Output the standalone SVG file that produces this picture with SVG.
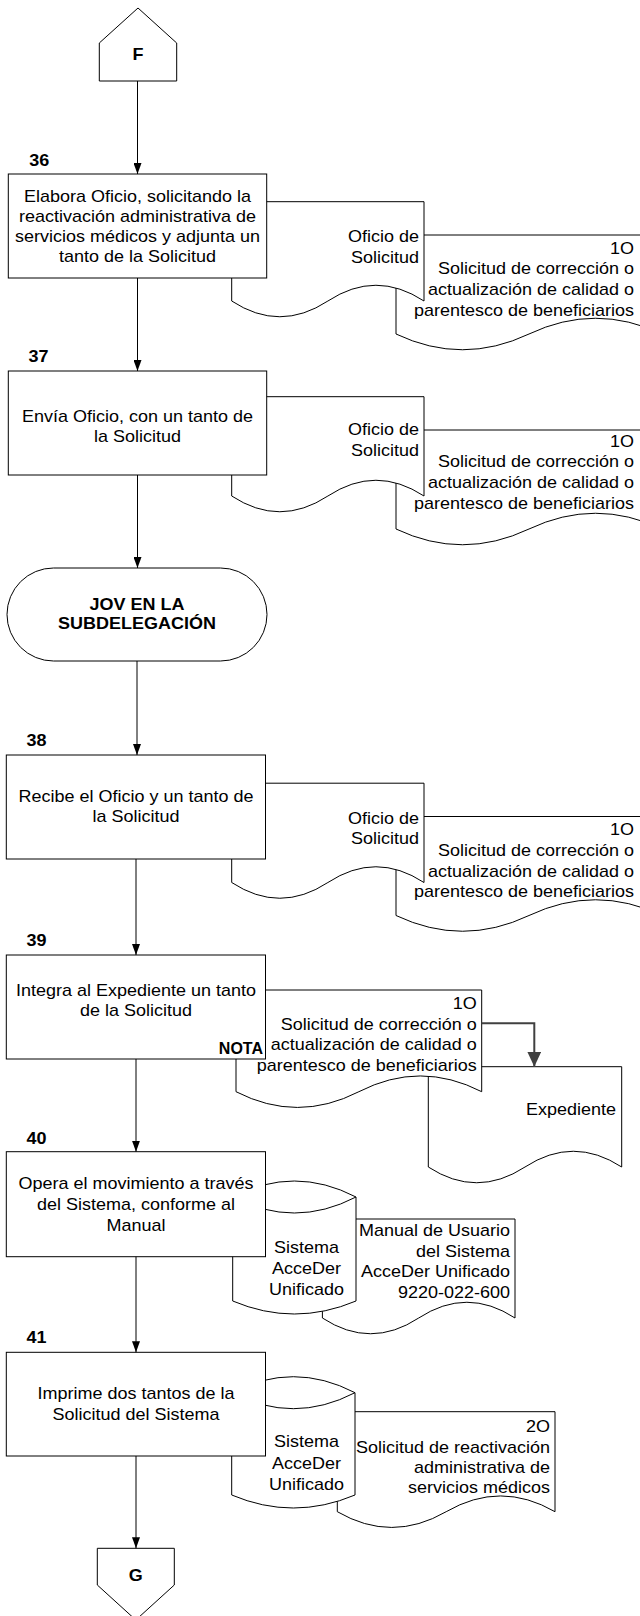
<svg xmlns="http://www.w3.org/2000/svg" width="640" height="1616" viewBox="0 0 640 1616">
<defs>
<style>
  .s { fill:#fff; stroke:#000; stroke-width:1; }
  .ln { fill:none; stroke:#000; stroke-width:1; }
  .t { font-family:"Liberation Sans", Arial, Helvetica, sans-serif; font-size:16px; fill:#000; }
  .b { font-weight:bold; }
  .m { text-anchor:middle; }
  .e { text-anchor:end; }
  .cn { fill:none; stroke:#000; stroke-width:1; marker-end:url(#ah); }
  .cn2 { fill:none; stroke:#404040; stroke-width:2; marker-end:url(#ah2); }
</style>
<marker id="ah" markerUnits="userSpaceOnUse" markerWidth="11" markerHeight="8" refX="11" refY="4" orient="auto"><path d="M0,0 L11,4 L0,8 Z" fill="#000"/></marker>
<marker id="ah2" markerUnits="userSpaceOnUse" markerWidth="15" markerHeight="14" refX="15" refY="7" orient="auto"><path d="M0,0 L15,7 L0,14 Z" fill="#404040"/></marker>
</defs>
<rect width="640" height="1616" fill="#fff"/>

<!-- off-page connector F -->
<g id="conn-F">
  <path class="s" d="M99.3 81 V43 L138 8 L176.7 43 V81 Z"/>
  <text class="t b m" transform="matrix(1.125 0 0 1 138 0)" x="0" y="59.7">F</text>
</g>

<!-- step 36 -->
<g id="doc36b">
  <path class="s" d="M396 235 H662 V334 Q595.5 302.5 529 334 Q462.5 365.5 396 334 Z"/>
  <text class="t e" transform="matrix(1.125 0 0 1 634 0)"><tspan x="0" y="253.7">1O</tspan><tspan x="0" y="274.4">Solicitud de corrección o</tspan><tspan x="0" y="295.1">actualización de calidad o</tspan><tspan x="0" y="315.7">parentesco de beneficiarios</tspan></text>
</g>
<g id="doc36a">
  <path class="s" d="M231.7 201.7 H424 V301 Q375.9 269.5 327.9 301 Q279.8 332.5 231.7 301 Z"/>
  <text class="t e" transform="matrix(1.125 0 0 1 419 0)"><tspan x="0" y="242.5">Oficio de</tspan><tspan x="0" y="263">Solicitud</tspan></text>
</g>
<g id="step36">
  <text class="t b" transform="matrix(1.125 0 0 1 29.3 0)" x="0" y="165.7">36</text>
  <rect class="s" x="8.3" y="174" width="258.4" height="104"/>
  <text class="t m" transform="matrix(1.125 0 0 1 137.5 0)"><tspan x="0" y="202.3">Elabora Oficio, solicitando la</tspan><tspan x="0" y="222.3">reactivación administrativa de</tspan><tspan x="0" y="242.3">servicios médicos y adjunta un</tspan><tspan x="0" y="262.3">tanto de la Solicitud</tspan></text>
</g>

<!-- step 37 -->
<g id="doc37b">
  <path class="s" d="M396 430 H662 V529 Q595.5 497.5 529 529 Q462.5 560.5 396 529 Z"/>
  <text class="t e" transform="matrix(1.125 0 0 1 634 0)"><tspan x="0" y="446.7">1O</tspan><tspan x="0" y="467.4">Solicitud de corrección o</tspan><tspan x="0" y="488.1">actualización de calidad o</tspan><tspan x="0" y="508.7">parentesco de beneficiarios</tspan></text>
</g>
<g id="doc37a">
  <path class="s" d="M231.7 396.7 H424 V496 Q375.9 464.5 327.9 496 Q279.8 527.5 231.7 496 Z"/>
  <text class="t e" transform="matrix(1.125 0 0 1 419 0)"><tspan x="0" y="435.5">Oficio de</tspan><tspan x="0" y="456">Solicitud</tspan></text>
</g>
<g id="step37">
  <text class="t b" transform="matrix(1.125 0 0 1 28.6 0)" x="0" y="361.7">37</text>
  <rect class="s" x="8.3" y="371" width="258.4" height="104"/>
  <text class="t m" transform="matrix(1.125 0 0 1 137.5 0)"><tspan x="0" y="421.7">Envía Oficio, con un tanto de</tspan><tspan x="0" y="441.7">la Solicitud</tspan></text>
</g>

<!-- terminal -->
<g id="term-jov">
  <rect class="s" x="7" y="568" width="260" height="93" rx="46.5" ry="46.5"/>
  <text class="t b m" transform="matrix(1.125 0 0 1 137 0)"><tspan x="0" y="609.7">JOV EN LA</tspan><tspan x="0" y="629.2">SUBDELEGACIÓN</tspan></text>
</g>

<!-- step 38 -->
<g id="doc38b">
  <path class="s" d="M396 816.5 H662 V915.5 Q595.5 884 529 915.5 Q462.5 947 396 915.5 Z"/>
  <text class="t e" transform="matrix(1.125 0 0 1 634 0)"><tspan x="0" y="835.2">1O</tspan><tspan x="0" y="855.9">Solicitud de corrección o</tspan><tspan x="0" y="876.6">actualización de calidad o</tspan><tspan x="0" y="897.2">parentesco de beneficiarios</tspan></text>
</g>
<g id="doc38a">
  <path class="s" d="M231.7 783.2 H424 V882.5 Q375.9 851 327.9 882.5 Q279.8 914 231.7 882.5 Z"/>
  <text class="t e" transform="matrix(1.125 0 0 1 419 0)"><tspan x="0" y="824">Oficio de</tspan><tspan x="0" y="844.5">Solicitud</tspan></text>
</g>
<g id="step38">
  <text class="t b" transform="matrix(1.125 0 0 1 26.5 0)" x="0" y="745.7">38</text>
  <rect class="s" x="6.3" y="755" width="259.2" height="104"/>
  <text class="t m" transform="matrix(1.125 0 0 1 136 0)"><tspan x="0" y="802.4">Recibe el Oficio y un tanto de</tspan><tspan x="0" y="822.4">la Solicitud</tspan></text>
</g>

<!-- step 39 -->
<g id="doc-expediente">
  <path class="s" d="M428.3 1066.7 H621.7 V1167 Q573.3 1135.5 525 1167 Q476.7 1198.5 428.3 1167 Z"/>
  <text class="t e" transform="matrix(1.125 0 0 1 616 0)" x="0" y="1115">Expediente</text>
</g>
<g id="doc39">
  <path class="s" d="M236 990 H481.7 V1091.7 Q420.3 1060.2 358.9 1091.7 Q297.4 1123.2 236 1091.7 Z"/>
  <text class="t e" transform="matrix(1.125 0 0 1 476.7 0)"><tspan x="0" y="1009">1O</tspan><tspan x="0" y="1029.7">Solicitud de corrección o</tspan><tspan x="0" y="1050.5">actualización de calidad o</tspan><tspan x="0" y="1071.2">parentesco de beneficiarios</tspan></text>
</g>
<g id="step39">
  <text class="t b" transform="matrix(1.125 0 0 1 26.5 0)" x="0" y="945.7">39</text>
  <rect class="s" x="6.3" y="955" width="259.2" height="104"/>
  <text class="t m" transform="matrix(1.125 0 0 1 136 0)"><tspan x="0" y="995.7">Integra al Expediente un tanto</tspan><tspan x="0" y="1015.7">de la Solicitud</tspan></text>
  <text class="t b e" x="263" y="1053.7">NOTA</text>
</g>

<!-- step 40 -->
<g id="doc-manual">
  <path class="s" d="M322.4 1219 H515 V1318 Q466.9 1286.5 418.7 1318 Q370.6 1349.5 322.4 1318 Z"/>
  <text class="t e" transform="matrix(1.125 0 0 1 510 0)"><tspan x="0" y="1236.5">Manual de Usuario</tspan><tspan x="0" y="1257">del Sistema</tspan><tspan x="0" y="1277.5">AcceDer Unificado</tspan><tspan x="0" y="1298">9220-022-600</tspan></text>
</g>
<g id="db40">
  <path class="s" d="M232.7 1197 Q294.35 1165 356 1197 V1301 Q294.35 1327 232.7 1301 Z"/>
  <path class="ln" d="M232.7 1197 Q294.35 1229 356 1197"/>
  <text class="t m" transform="matrix(1.125 0 0 1 306.5 0)"><tspan x="0" y="1252.7">Sistema</tspan><tspan x="0" y="1273.7">AcceDer</tspan><tspan x="0" y="1294.7">Unificado</tspan></text>
</g>
<g id="step40">
  <text class="t b" transform="matrix(1.125 0 0 1 26.5 0)" x="0" y="1143.7">40</text>
  <rect class="s" x="6.3" y="1151.7" width="259.2" height="105"/>
  <text class="t m" transform="matrix(1.125 0 0 1 136 0)"><tspan x="0" y="1189">Opera el movimiento a través</tspan><tspan x="0" y="1209.8">del Sistema, conforme al</tspan><tspan x="0" y="1230.6">Manual</tspan></text>
</g>

<!-- step 41 -->
<g id="doc41">
  <path class="s" d="M337.3 1411.7 H555 V1511.7 Q500.6 1480.2 446.2 1511.7 Q391.7 1543.2 337.3 1511.7 Z"/>
  <text class="t e" transform="matrix(1.125 0 0 1 550 0)"><tspan x="0" y="1432.5">2O</tspan><tspan x="0" y="1453">Solicitud de reactivación</tspan><tspan x="0" y="1473">administrativa de</tspan><tspan x="0" y="1493">servicios médicos</tspan></text>
</g>
<g id="db41">
  <path class="s" d="M231.7 1392.7 Q293.35 1360.7 355 1392.7 V1495 Q293.35 1521 231.7 1495 Z"/>
  <path class="ln" d="M231.7 1392.7 Q293.35 1424.7 355 1392.7"/>
  <text class="t m" transform="matrix(1.125 0 0 1 306.5 0)"><tspan x="0" y="1447.5">Sistema</tspan><tspan x="0" y="1469">AcceDer</tspan><tspan x="0" y="1490">Unificado</tspan></text>
</g>
<g id="step41">
  <text class="t b" transform="matrix(1.125 0 0 1 26.5 0)" x="0" y="1342.7">41</text>
  <rect class="s" x="6.3" y="1352.3" width="259.2" height="103.7"/>
  <text class="t m" transform="matrix(1.125 0 0 1 136 0)"><tspan x="0" y="1399">Imprime dos tantos de la</tspan><tspan x="0" y="1419.7">Solicitud del Sistema</tspan></text>
</g>

<!-- off-page connector G -->
<g id="conn-G">
  <path class="s" d="M97.3 1548.3 H174.3 V1585 L135.8 1620 L97.3 1585 Z"/>
  <text class="t b m" transform="matrix(1.125 0 0 1 135.8 0)" x="0" y="1580.7">G</text>
</g>

<!-- flow connectors -->
<g id="connectors">
  <path class="cn" d="M137.5 81 V174"/>
  <path class="cn" d="M137.5 278 V371"/>
  <path class="cn" d="M137.5 475 V568"/>
  <path class="cn" d="M137 661 V755"/>
  <path class="cn" d="M136 859 V955"/>
  <path class="cn" d="M136 1059 V1151.7"/>
  <path class="cn" d="M136 1256.7 V1352.3"/>
  <path class="cn" d="M136 1456 V1548.3"/>
  <path class="cn2" d="M481.7 1023.3 H534.3 V1066.7"/>
</g>
</svg>
